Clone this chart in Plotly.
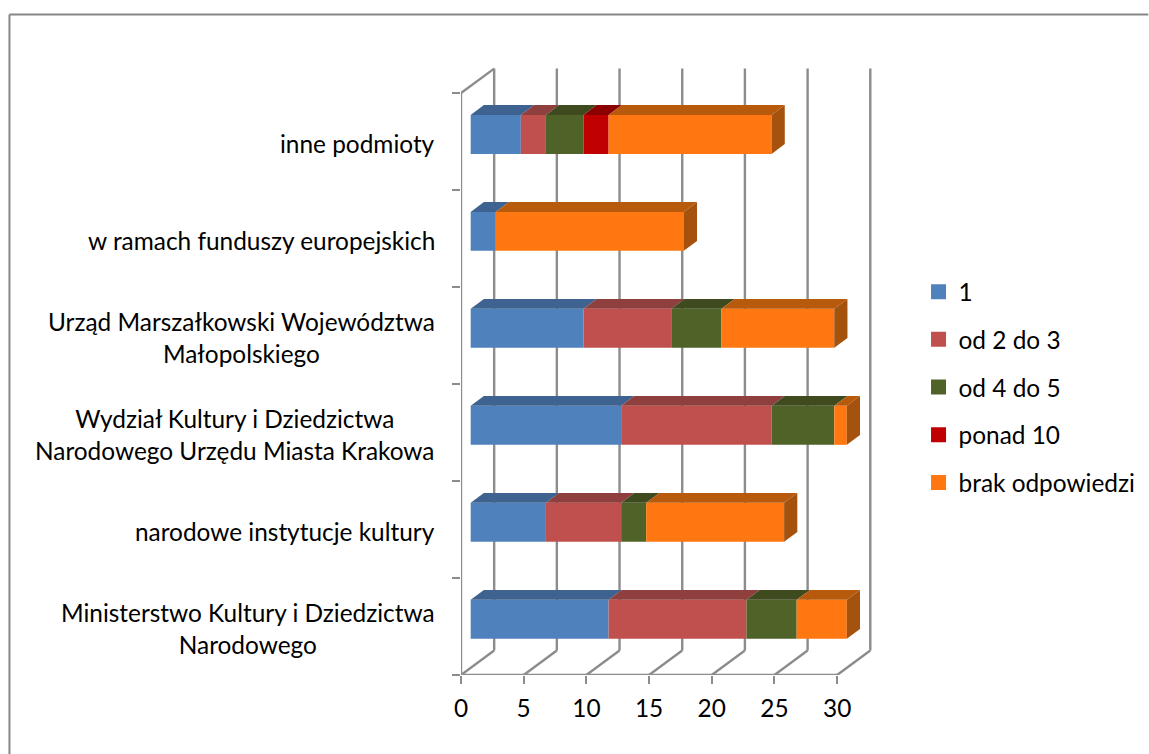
import plotly.graph_objects as go

categories = ["Ministerstwo Kultury i Dziedzictwa<br>Narodowego",
              "narodowe instytucje kultury",
              "Wydział Kultury i Dziedzictwa<br>Narodowego Urzędu Miasta Krakowa",
              "Urząd Marszałkowski Województwa<br>Małopolskiego",
              "w ramach funduszy europejskich",
              "inne podmioty"]
series_names = ["1", "od 2 do 3", "od 4 do 5", "ponad 10", "brak odpowiedzi"]
v_1 = [11, 6, 12, 9, 2, 4]
v_2_3 = [11, 6, 12, 7, 0, 2]
v_4_5 = [4, 2, 5, 4, 0, 3]
v_10 = [0, 0, 0, 0, 0, 2]
v_brak = [4, 11, 1, 9, 15, 13]
series_values = [v_1, v_2_3, v_4_5, v_10, v_brak]
x_ticks = [0, 5, 10, 15, 20, 25, 30]

front = ["#4F81BD", "#C0504D", "#4F6228", "#C00000", "#FF7710"]
top = ["#3F6390", "#8F3F3D", "#3F4B1F", "#8B0000", "#B85A0C"]
side = "#A5520E"
grey = "#8C8C8C"
FONT = "Lato"
FS = 24.4

W, H = 1149, 754
OX, OY = 461, 675          # pixel of the data origin
PX, PY = 12.55, 97.05      # pixels per unit
XMAX, YMAX = 33.5, 6.3
plot_w, plot_h = XMAX * PX, YMAX * PY

# 3-D offsets in axis units
wall_dx, wall_dy = 33.2 / PX, 24.5 / PY
bar_dx, bar_dy = 9.7 / PX, 7.2 / PY
depth_dx, depth_dy = 13.2 / PX, 9.9 / PY
bar_h = 39 / PY

fig = go.Figure()
shapes = []

def line(xs, ys):
    for k in range(len(xs) - 1):
        shapes.append(dict(type="line", xref="x", yref="y", layer="below", x0=xs[k], y0=ys[k],
                           x1=xs[k + 1], y1=ys[k + 1], line=dict(color=grey, width=2.4)))

def poly(xs, ys, color):
    fig.add_trace(go.Scatter(x=xs, y=ys, mode="lines", fill="toself", fillcolor=color,
                             line=dict(width=0, color=color), showlegend=False, hoverinfo="skip"))

# walls
for t in x_ticks:
    line([t, t + wall_dx, t + wall_dx], [0, wall_dy, 6 + wall_dy])
line([0, 0, wall_dx], [0, 6, 6 + wall_dy])
line([0, x_ticks[-1]], [0, 0])

# bars
for i, cat in enumerate(categories):
    yc = i + 0.5 + bar_dy
    y0, y1 = yc - bar_h / 2, yc + bar_h / 2
    cum = bar_dx
    for s, vals in enumerate(series_values):
        v = vals[i]
        if v == 0:
            continue
        a, b = cum, cum + v
        poly([a, b, b + depth_dx, a + depth_dx, a], [y1, y1, y1 + depth_dy, y1 + depth_dy, y1], top[s])
        cum = b
    poly([cum, cum + depth_dx, cum + depth_dx, cum, cum],
         [y0, y0 + depth_dy, y1 + depth_dy, y1, y0], side)

for s, vals in enumerate(series_values):
    base = [bar_dx + sum(series_values[k][i] for k in range(s)) for i in range(len(categories))]
    fig.add_trace(go.Bar(x=vals, y=[i + 0.5 + bar_dy for i in range(len(categories))], base=base,
                         orientation="h", width=bar_h, marker=dict(color=front[s], line=dict(width=0)),
                         showlegend=False, hoverinfo="skip"))

# legend entries
for s, name in enumerate(series_names):
    fig.add_trace(go.Scatter(x=[None], y=[None], mode="markers", name=name, legendgroup=name,
                             marker=dict(symbol="square", size=15, color=front[s])))

annotations = [dict(x=0, y=i + 0.5, xref="x", yref="y", text=c, xanchor="right", yanchor="middle",
                    align="center", xshift=-24, yshift=-1.5, showarrow=False,
                    font=dict(family=FONT, size=FS, color="#000000"))
               for i, c in enumerate(categories)]

def px_x(p): return (p - OX) / plot_w
def px_y(p): return (OY - p) / plot_h

shapes += [dict(type="line", xref="paper", yref="paper", x0=px_x(9), x1=px_x(9), y0=px_y(14), y1=px_y(H),
                line=dict(color="#868686", width=2)),
           dict(type="line", xref="paper", yref="paper", x0=px_x(9), x1=px_x(W), y0=px_y(14), y1=px_y(14),
                line=dict(color="#868686", width=2))]

fig.update_layout(
    width=W, height=H, barmode="overlay", paper_bgcolor="white", plot_bgcolor="white",
    margin=dict(l=OX, r=W - OX - plot_w, t=OY - plot_h, b=H - OY, autoexpand=False),
    font=dict(family=FONT, size=FS, color="#000000"),
    xaxis=dict(range=[0, XMAX], tickvals=x_ticks, ticks="outside", ticklen=8, tickwidth=2.4, tickcolor=grey,
               showgrid=False, zeroline=False, showline=False, tickfont=dict(family=FONT, size=FS),
               ticklabelstandoff=4),
    yaxis=dict(range=[0, YMAX], tickvals=list(range(7)), ticktext=[""] * 7, ticks="outside", ticklen=8,
               tickwidth=2.4, tickcolor=grey, showgrid=False, zeroline=False, showline=False),
    annotations=annotations, shapes=shapes,
    legend=dict(x=(919 - OX) / plot_w, y=px_y(269), xanchor="left", yanchor="top", tracegroupgap=13,
                itemsizing="trace", font=dict(family=FONT, size=FS), bgcolor="rgba(0,0,0,0)"),
)
fig.write_html("out.html", post_script="document.body.style.margin='0';",
               config=dict(displayModeBar=False))
